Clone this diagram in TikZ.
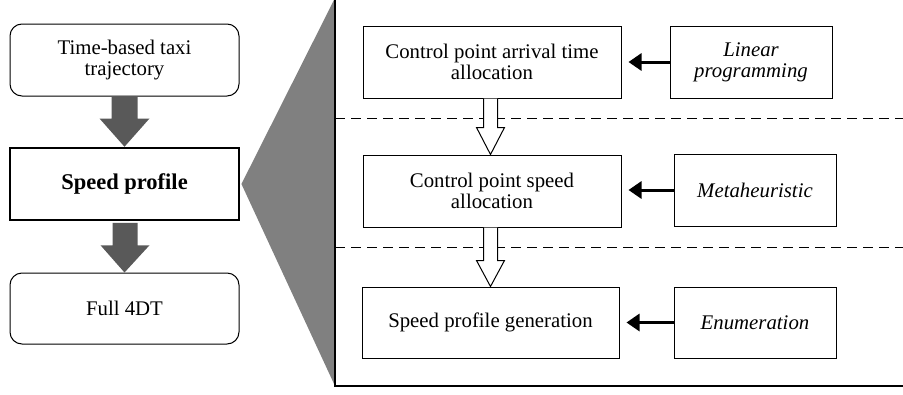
\documentclass[tikz,border=0pt]{standalone}
\usepackage{fontspec}
\setmainfont{Liberation Serif}
\usetikzlibrary{calc,arrows.meta}
\definecolor{trigrey}{HTML}{808080}
\definecolor{arrgrey}{HTML}{595959}
\begin{document}
\begin{tikzpicture}[x=1pt,y=1pt,
  box/.style={draw, line width=1pt, align=center, inner sep=0pt, font=\fontsize{20.8}{21}\selectfont},
  rbox/.style={box, rounded corners=12pt},
  method/.style={box, font=\fontsize{20.8}{21}\selectfont\itshape},
  feed/.style={line width=3pt, -{Triangle[length=13pt,width=17pt]}, shorten >=7pt},
  hollow/.style={draw, line width=1pt, fill=white},
  greyarr/.style={fill=arrgrey},
  sep/.style={line width=1pt, dash pattern=on 10pt off 6pt}]
\useasboundingbox (0,0) rectangle (903,-394);
% left column
\node[rbox, minimum width=229pt, minimum height=72pt] (traj) at (124.5,-60) {Time-based taxi\\trajectory};
\node[box, line width=2.5pt, minimum width=229pt, minimum height=72pt, font=\fontsize{22.5}{21}\selectfont\bfseries] (sp) at (124.5,-184) {Speed profile};
\node[rbox, minimum width=229pt, minimum height=71pt] (full) at (124.5,-308.5) {Full 4DT};
% grey arrows
\fill[greyarr] ($(traj.south)+(-13,0)$) -- ($(traj.south)+(-13,-22)$) -- ($(traj.south)+(-25,-22)$)
  -- ($(sp.north)+(0,0)$) -- ($(traj.south)+(25,-22)$) -- ($(traj.south)+(13,-22)$) -- ($(traj.south)+(13,0)$) -- cycle;
\fill[greyarr] ($(sp.south)+(-12,-1.5)$) -- ($(sp.south)+(-12,-24)$) -- ($(sp.south)+(-24,-24)$)
  -- (full.north) -- ($(sp.south)+(25,-24)$) -- ($(sp.south)+(13,-24)$) -- ($(sp.south)+(13,-1.5)$) -- cycle;
% zoom triangle and frame
\coordinate (ftop) at (335,2);
\coordinate (fbl) at (335,-386);
\coordinate (fbr) at (910,-386);
\fill[trigrey] ($(sp.east)+(1.2,0)$) -- (ftop) -- (fbl) -- cycle;
\draw[line width=2pt] (ftop) -- (fbl) -- (fbr);
\coordinate (d1l) at (335,-118);
\coordinate (d1r) at (903,-118);
\coordinate (d2l) at (335,-247);
\coordinate (d2r) at (903,-247);
\draw[sep] (d1l) -- (d1r);
\draw[sep] (d2l) -- (d2r);
% right blocks
\node[box, fill=white, minimum width=258pt, minimum height=72pt] (a) at (492,-62) {Control point arrival time\\allocation};
\node[method, fill=white, minimum width=162pt, minimum height=72pt] (lp) at (751,-62) {Linear\\programming};
\node[box, fill=white, minimum width=258pt, minimum height=72pt] (b) at (492,-191) {Control point speed\\allocation};
\node[method, fill=white, minimum width=162pt, minimum height=72pt] (mh) at (755,-190) {Metaheuristic};
\node[box, fill=white, minimum width=257pt, minimum height=71pt] (c) at (490.5,-322.5) {Speed profile generation};
\node[method, fill=white, minimum width=162pt, minimum height=71pt] (en) at (755,-322.5) {Enumeration};
% feed arrows
\draw[feed] (lp.west) -- (lp.west -| a.east);
\draw[feed] (mh.west) -- (mh.west -| b.east);
\draw[feed] (en.west) -- (en.west -| c.east);
% hollow arrows
\path[hollow] ($(a.south)+(-8.5,0)$) -- ($(a.south)+(-8.5,-29)$) -- ($(a.south)+(-15.5,-29)$)
  -- ($(b.north)+(-1.5,0)$) -- ($(a.south)+(12.5,-29)$) -- ($(a.south)+(5.5,-29)$) -- ($(a.south)+(5.5,0)$);
\path[hollow] ($(b.south)+(-8.5,0)$) -- ($(b.south)+(-8.5,-33)$) -- ($(b.south)+(-15.5,-33)$)
  -- ($(c.north)+(0,0)$) -- ($(b.south)+(12.5,-33)$) -- ($(b.south)+(5.5,-33)$) -- ($(b.south)+(5.5,0)$);
\end{tikzpicture}
\end{document}
